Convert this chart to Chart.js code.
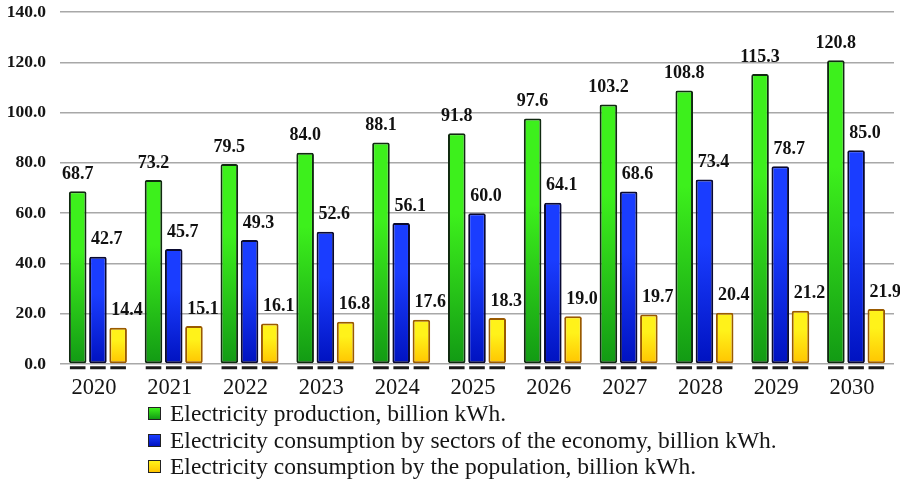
<!DOCTYPE html>
<html>
<head>
<meta charset="utf-8">
<script src="https://cdn.jsdelivr.net/npm/chart.js@4.4.1/dist/chart.umd.min.js"></script>
<style>
  html, body { margin: 0; padding: 0; background: #fff; }
  #wrap { position: relative; width: 900px; height: 491px; }
  canvas { display: block; }
  #legend { position: absolute; left: 148px; top: 400px; font-family: 'Liberation Serif', serif; font-size: 23.5px; color: #151515; }
  #legend .item { height: 26.5px; line-height: 26.5px; white-space: nowrap; }
  #legend .box { display: inline-block; width: 11px; height: 11px; border: 1px solid #222; margin-right: 9px; vertical-align: 1px; }
</style>
</head>
<body>
<div id="wrap">
  <canvas id="chart" width="900" height="491"></canvas>
  <div id="legend"></div>
</div>
<script>
const years = ['2020', '2021', '2022', '2023', '2024', '2025', '2026', '2027', '2028', '2029', '2030'];
const production = [68.7, 73.2, 79.5, 84.0, 88.1, 91.8, 97.6, 103.2, 108.8, 115.3, 120.8];
const economy = [42.7, 45.7, 49.3, 52.6, 56.1, 60.0, 64.1, 68.6, 73.4, 78.7, 85.0];
const population = [14.4, 15.1, 16.1, 16.8, 17.6, 18.3, 19.0, 19.7, 20.4, 21.2, 21.9];
const seriesNames = [
    'Electricity production, billion kWh.',
    'Electricity consumption by sectors of the economy, billion kWh.',
    'Electricity consumption by the population, billion kWh.'
];

// top / bottom colours of each bar gradient
const fills = [
    ['#3df01c', '#129a14'],
    ['#1a3dff', '#0012c0'],
    ['#fff21a', '#ffc400']
];
const borders = ['#102a10', '#0a0a30', '#9a5a00'];

function barGradient(i) {
    return function(context) {
        const chart = context.chart;
        if (!chart.chartArea || context.type !== 'data') return fills[i][0];
        const y = chart.scales.y;
        const top = y.getPixelForValue(context.raw);
        const bottom = y.getPixelForValue(0);
        const g = chart.ctx.createLinearGradient(0, top, 0, bottom);
        g.addColorStop(0, fills[i][0]);
        g.addColorStop(0.35, fills[i][0]);
        g.addColorStop(1, fills[i][1]);
        return g;
    };
}

const valueLabels = {
    id: 'valueLabels',
    afterDatasetsDraw(chart) {
        const ctx = chart.ctx;
        ctx.save();
        chart.data.datasets.forEach(function(ds, i) {
            const meta = chart.getDatasetMeta(i);
            meta.data.forEach(function(bar, j) {
                // dark stub under each bar
                ctx.fillStyle = '#1c1c1c';
                ctx.fillRect(bar.x - bar.width / 2 + 1, bar.base + 3, bar.width - 2, 3);
                ctx.fillStyle = '#111';
                ctx.font = 'bold 18px "Liberation Serif", serif';
                ctx.textBaseline = 'bottom';
                const txt = ds.data[j].toFixed(1);
                if (i === 0) {
                    ctx.textAlign = 'center';
                    ctx.fillText(txt, bar.x, bar.y - 8);
                } else {
                    ctx.textAlign = 'left';
                    ctx.fillText(txt, bar.x - bar.width / 2 + 2, bar.y - 8);
                }
            });
        });
        ctx.restore();
    }
};

const chart = new Chart(document.getElementById('chart').getContext('2d'), {
    type: 'bar',
    data: {
        labels: years,
        datasets: [production, economy, population].map(function(d, i) {
            return {
                label: seriesNames[i],
                data: d,
                backgroundColor: barGradient(i),
                borderColor: borders[i],
                borderWidth: 2,
                borderSkipped: false,
                borderRadius: 2,
                categoryPercentage: 0.8,
                barPercentage: 0.87
            };
        })
    },
    options: {
        responsive: false,
        animation: false,
        layout: { autoPadding: false, padding: { top: 12, right: 6, left: 0, bottom: 0 } },
        plugins: {
            legend: { display: false },
            tooltip: { enabled: false }
        },
        scales: {
            x: {
                grid: { display: false },
                border: { display: false },
                ticks: {
                    color: '#151515',
                    font: { family: '"Liberation Serif", serif', size: 22.5 },
                    padding: 3,
                    labelOffset: -4
                },
                afterFit(scale) {
                    scale.height = 127;
                    scale.paddingLeft = 0;
                    scale.paddingRight = 0;
                }
            },
            y: {
                min: 0,
                max: 140,
                border: { display: false },
                grid: { color: '#a8a8a8', lineWidth: 1.5, drawTicks: false },
                ticks: {
                    stepSize: 20,
                    color: '#151515',
                    padding: 14,
                    font: { family: '"Liberation Serif", serif', size: 17.5, weight: 'bold' },
                    callback: function(v) { return v.toFixed(1); }
                },
                afterFit(scale) {
                    scale.width = 60;
                    scale.paddingTop = 0;
                    scale.paddingBottom = 0;
                }
            }
        }
    },
    plugins: [valueLabels]
});

// legend below the plot
const legend = document.getElementById('legend');
seriesNames.forEach(function(name, i) {
    const row = document.createElement('div');
    row.className = 'item';
    const box = document.createElement('span');
    box.className = 'box';
    box.style.background = 'linear-gradient(' + fills[i][0] + ', ' + fills[i][1] + ')';
    row.appendChild(box);
    row.appendChild(document.createTextNode(name));
    legend.appendChild(row);
});
</script>
</body>
</html>
